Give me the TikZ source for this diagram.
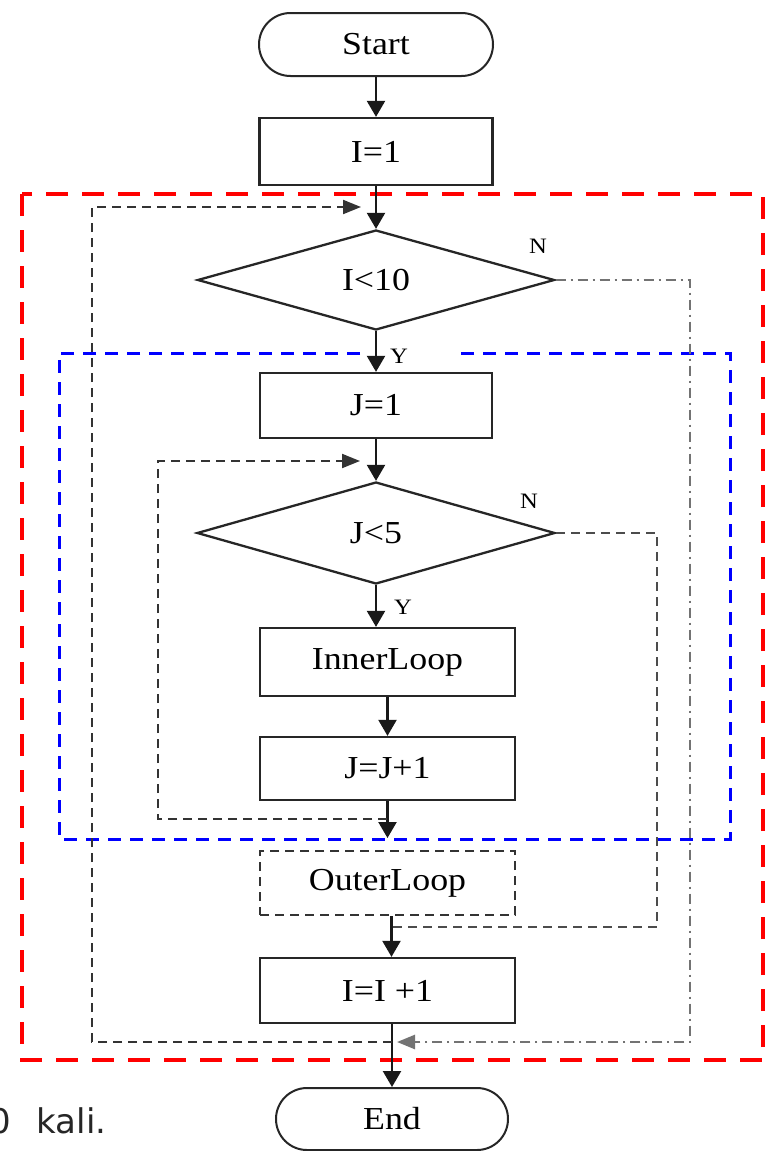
\documentclass[tikz,border=0pt]{standalone}
\usepackage{fontspec}
\setmainfont{Liberation Serif}[FakeStretch=1.12]
\newfontfamily\notefont{DejaVu Sans}
\usetikzlibrary{shapes.geometric,shapes.misc,arrows.meta}

\newcommand{\boxfont}{\fontsize{32}{38}\selectfont}
\newcommand{\tagfont}{\fontsize{22}{26}\selectfont}

\tikzset{
  procbox/.style={rectangle, draw=black!85, line width=2.3pt, fill=white,
    inner sep=0pt, font=\boxfont},
  termbox/.style={rounded rectangle, draw=black!85, line width=2pt, fill=white,
    inner sep=0pt, font=\boxfont},
  decision/.style={diamond, draw=black!85, line width=2.3pt, fill=white,
    inner sep=0pt, font=\boxfont},
  flowarrow/.style={line width=2.3pt, draw=black!90,
    -{Triangle[length=16pt,width=18pt]}},
  loopline/.style={line width=2pt, draw=black!80, dash pattern=on 9pt off 6pt},
  looptip/.style={-{Triangle[length=18pt,width=14pt]}},
  exitline/.style={line width=2.6pt, draw=black!55, dash pattern=on 10pt off 5pt on 2pt off 5pt},
  outerframe/.style={draw=red, line width=4.5pt, dash pattern=on 22pt off 14pt},
  innerframe/.style={draw=blue, line width=3pt, dash pattern=on 13pt off 9pt},
  tag/.style={inner sep=0pt, font=\tagfont}
}

\begin{document}
\begin{tikzpicture}[x=1pt,y=-1pt]
  \fill[white] (0,0) rectangle (767,1151);
  \useasboundingbox (0,0) rectangle (767,1151);

  % frames around the two loops
  \draw[outerframe] (22,194) rectangle (763,1060);
  \draw[innerframe] (360,353) -- (59,353) -- (59,839) -- (730,839) -- (730,353) -- (461,353);

  % flowchart nodes
  \node[termbox, minimum width=234pt, minimum height=63pt] (start) at (376,44.5) {Start};
  \node[procbox, minimum width=233pt, minimum height=67pt] (iinit) at (376,151.5) {I=1};
  \node[decision, minimum width=357pt, minimum height=100pt] (itest) at (376,280) {I<10};
  \node[procbox, minimum width=232pt, minimum height=65pt] (jinit) at (376,405.5) {J=1};
  \node[decision, minimum width=358pt, minimum height=102pt] (jtest) at (376,533) {J<5};
  \node[procbox, minimum width=255pt, minimum height=68pt] (inner) at (387.5,662) {InnerLoop};
  \node[procbox, minimum width=255pt, minimum height=63pt] (jinc) at (387.5,768.5) {J=J+1};
  \node[procbox, draw=black!80, line width=2pt, dash pattern=on 9pt off 6pt, minimum width=255pt, minimum height=64pt] (outer) at (387.5,883) {OuterLoop};
  \node[procbox, minimum width=255pt, minimum height=65pt] (iinc) at (387.5,990.5) {I=I +1};
  \node[termbox, minimum width=232pt, minimum height=62pt] (stop) at (392,1119) {End};

  % branch labels
  \node[tag] (in) at (538,246) {N};
  \node[tag] (iy) at (399,356) {Y};
  \node[tag] (jn) at (529,501) {N};
  \node[tag] (jy) at (403,607) {Y};

  % junction points on the main line
  \coordinate (itop) at (376,207);
  \coordinate (jtop) at (376,461);
  \coordinate (jback) at (387,819);
  \coordinate (ijoin) at (392,927);
  \coordinate (iback) at (392,1042);

  % main flow
  \draw[flowarrow] (start.south) -- (iinit.north);
  \draw[flowarrow] (iinit.south) -- (itest.north);
  \draw[flowarrow] (itest.south) -- (jinit.north);
  \draw[flowarrow] (jinit.south) -- (jtest.north);
  \draw[flowarrow] (jtest.south) -- (jtest.south |- inner.north);
  \draw[flowarrow] (inner.south) -- (jinc.north);
  \draw[flowarrow, shorten >=12pt] (jinc.south) -- (outer.north);
  \draw[flowarrow] ([xshift=4pt]outer.south) -- ([xshift=4pt]iinc.north);
  \draw[flowarrow] (iinc.south -| stop.north) -- (stop.north);

  % inner loop back edge
  \draw[loopline, looptip, shorten >=16pt] (jback) -- (158,819) -- (158,461) -- (jtop);
  % outer loop back edge
  \draw[loopline, looptip, shorten >=15pt] (iback) -- (92,1042) -- (92,207) -- (itop);
  % exit of the inner loop
  \draw[loopline, draw=black!70] (jtest.east) -- (657,533) -- (657,927) -- (ijoin);
  % exit of the outer loop
  \draw[exitline, looptip, shorten >=5pt] (itest.east) -- (690,280) -- (690,1042) -- (iback);

  % caption fragment, running off the left edge
  \node[anchor=base west, inner sep=0pt, text=black!85,
        font=\notefont\fontsize{34}{40}\selectfont] (note) at (-11,1133) {0\hspace{26pt}kali.};
\end{tikzpicture}
\end{document}
